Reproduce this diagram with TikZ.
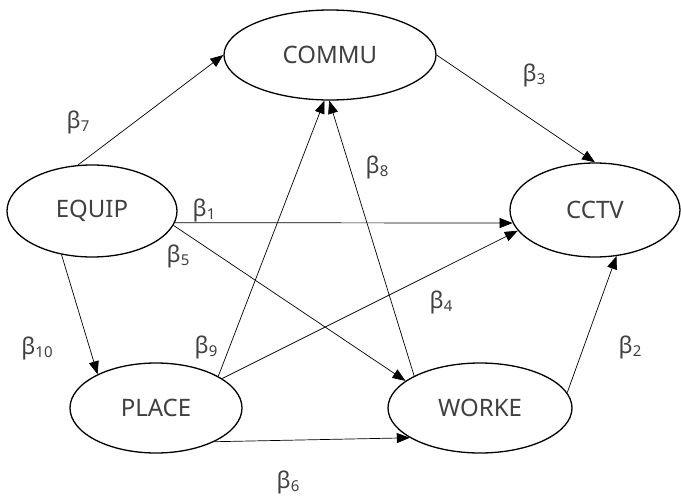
\documentclass[tikz,border=0pt]{standalone}
\usepackage{fontspec}
\setmainfont{Noto Sans}
\usetikzlibrary{arrows.meta,shapes.geometric}
\newcommand{\coefb}[1]{β\raisebox{-0.3ex}{\fontsize{15}{18}\selectfont #1}}
\tikzset{%
	var/.style    = {draw, ellipse, line width=1.3pt, inner sep=0pt, minimum height=90pt, text=black!75, font=\fontsize{24}{28}\selectfont}, % construct
	coef/.style   = {inner sep=0pt, text=black!75, font=\fontsize{23}{27}\selectfont}, % path label
	arrow/.style  = {line width=0.7pt, -{Triangle[length=13pt,width=10pt]}},
}
\begin{document}
\begin{tikzpicture}[x=1pt, y=-1pt]
	\useasboundingbox (0,0) rectangle (681,498);
	\node[var, minimum width=212pt] (commu) at (330,55) {COMMU};
	\node[var, minimum width=170pt, minimum height=92pt] (equip) at (92,211) {EQUIP};
	\node[var, minimum width=170pt, minimum height=94pt] (cctv) at (595,210) {CCTV};
	\node[var, minimum width=172pt] (place) at (156,408) {PLACE};
	\node[var, minimum width=184pt] (worke) at (480,408) {WORKE};
	% paths
	\draw[arrow] (equip.107) -- (commu.west);
	\draw[arrow] (commu.east) -- (cctv.north);
	\draw[arrow] (equip.-8) -- (cctv.189);
	\draw[arrow] (equip.-10) -- (worke.160);
	\draw[arrow] (equip.-125) -- (place.150);
	\draw[arrow] (place.27) -- (commu.-97);
	\draw[arrow] (worke.154) -- (commu.-91);
	\draw[arrow] (place.24) -- (cctv.195);
	\draw[arrow] (worke.10) -- (cctv.-65);
	\draw[arrow] (place.-30) -- (worke.203);
	% coefficients
	\node[coef] (b7) at (78,122) {\coefb{7}};
	\node[coef] (b3) at (534,75) {\coefb{3}};
	\node[coef] (b8) at (377,167) {\coefb{8}};
	\node[coef] (b1) at (204,210) {\coefb{1}};
	\node[coef] (b5) at (178,256) {\coefb{5}};
	\node[coef] (b4) at (441,302) {\coefb{4}};
	\node[coef] (b10) at (37,348) {\coefb{10}};
	\node[coef] (b9) at (206,347) {\coefb{9}};
	\node[coef] (b2) at (630,347) {\coefb{2}};
	\node[coef] (b6) at (288,482) {\coefb{6}};
\end{tikzpicture}
\end{document}
